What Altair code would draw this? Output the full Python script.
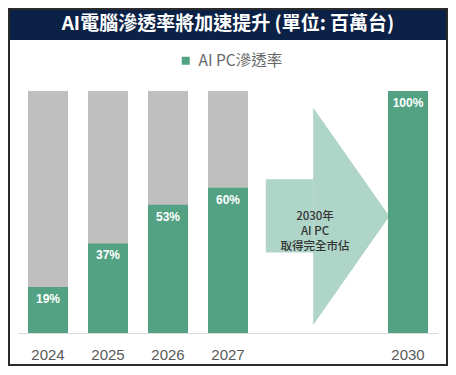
import altair as alt
import pandas as pd

# ---- data ----
years = ["2024", "2025", "2026", "2027", "2030"]
share = [19, 37, 53, 60, 100]
slots = ["2024", "2025", "2026", "2027", "gap1", "gap2", "2030"]
series_name = "AI PC滲透率"
title_text = "AI電腦滲透率將加速提升 (單位: 百萬台)"
arrow_text = "2030年\nAI PC\n取得完全市佔"

# arrow outline: x in category slots (0..7), y in percent
body_x = [4.13, 4.92]
body_y = [33.3, 63.5]
head_x = [4.92, 6.19]
head_top = [93.1, 48.2]
head_bottom = [3.3, 48.2]

GREEN = "#52a283"
GRAY = "#bfbfbf"
NAVY = "#0b2145"
ARROW = "#aed5c7"
NUM_FONT = "Liberation Sans Narrow, Arial Narrow, Liberation Sans, Arial"
CJK_FONT = "Noto Sans CJK TC"

W, H = 420, 242
PAD = {"left": 10, "top": 83, "right": 10, "bottom": 33}

bars = pd.DataFrame({"year": years, "share": share, "series": series_name,
                     "label": [f"{v}%" for v in share]})
bg = pd.DataFrame({"year": years, "full": [100] * len(years)})
body = pd.DataFrame({"x1": [body_x[0]], "x2": [body_x[1]],
                     "y1": [body_y[0]], "y2": [body_y[1]]})
head = pd.DataFrame({"hx": head_x, "top": head_top, "bottom": head_bottom})
one = pd.DataFrame({"k": [0]})

xscale = alt.Scale(domain=slots, paddingInner=1 / 3, paddingOuter=1 / 6)
yscale = alt.Scale(domain=[0, 100])
qscale = alt.Scale(domain=[0, 7], nice=False, zero=False)

x_axis = alt.X("year:N", scale=xscale, sort=slots, axis=alt.Axis(
    title=None, labelAngle=0, ticks=False, tickSize=0,
    labelExpr="indexof(datum.value, 'gap') >= 0 ? '' : datum.label",
    domainColor="#d9d9d9", domainWidth=1, labelColor="#595959",
    labelFontSize=15, labelFont=NUM_FONT, labelPadding=14))
x_noaxis = alt.X("year:N", scale=xscale, sort=slots, axis=None)

frame = alt.Chart(one).mark_rect(filled=False, stroke="#2b2b2b", strokeWidth=2).encode(
    x=alt.value(-9), x2=alt.value(429), y=alt.value(-82), y2=alt.value(274))
titlebar = alt.Chart(one).mark_rect(color=NAVY).encode(
    x=alt.value(-10), x2=alt.value(430), y=alt.value(-83), y2=alt.value(-51))
title = alt.Chart(one).mark_text(text=title_text, color="white", fontSize=19,
                                 fontWeight="bold", font=CJK_FONT,
                                 baseline="middle", align="center").encode(
    x=alt.value(210), y=alt.value(-67))

arrow_body = alt.Chart(body).mark_rect(color=ARROW).encode(
    x=alt.X("x1:Q", scale=qscale, axis=None), x2="x2:Q",
    y=alt.Y("y1:Q", scale=yscale, axis=None), y2="y2:Q")
arrow_head = alt.Chart(head).mark_area(color=ARROW, opacity=1).encode(
    x=alt.X("hx:Q", scale=qscale, axis=None),
    y=alt.Y("top:Q", scale=yscale, axis=None, stack=None),
    y2="bottom:Q")
arrow_label = alt.Chart(pd.DataFrame({"ax": [4.95], "ay": [47.9], "t": [arrow_text]})).mark_text(
    color="#333333", fontSize=11.5, font=CJK_FONT, fontWeight=500, lineBreak="\n",
    lineHeight=15, baseline="middle", align="center").encode(
    x=alt.X("ax:Q", scale=qscale, axis=None),
    y=alt.Y("ay:Q", scale=yscale, axis=None),
    text="t:N")

gray = alt.Chart(bg).mark_bar(color=GRAY).encode(
    x=x_axis, y=alt.Y("full:Q", scale=yscale, axis=None))
green = alt.Chart(bars).mark_bar().encode(
    x=x_noaxis,
    y=alt.Y("share:Q", scale=yscale, axis=None),
    color=alt.Color("series:N", scale=alt.Scale(domain=[series_name], range=[GREEN]),
                    legend=alt.Legend(title=None, orient="none", legendX=160, legendY=-38,
                                      symbolType="square", symbolSize=64,
                                      symbolStrokeWidth=0, labelFontSize=15.5,
                                      labelColor="#666666", labelFont=CJK_FONT,
                                      labelOffset=5)))
labels = alt.Chart(bars).mark_text(color="white", fontSize=12, fontWeight="bold",
                                   font=NUM_FONT, baseline="top", dy=7).encode(
    x=x_noaxis, y=alt.Y("share:Q", scale=yscale, axis=None), text="label:N")

chart = alt.layer(titlebar, frame, title, arrow_body, arrow_head, arrow_label,
                  gray, green, labels).resolve_scale(x="independent").properties(
    width=W, height=H, padding=PAD, autosize=alt.AutoSizeParams(type="none"),
    background="white").configure_view(stroke=None)

chart.save("out.html", embed_options={"renderer": "svg", "actions": False})
